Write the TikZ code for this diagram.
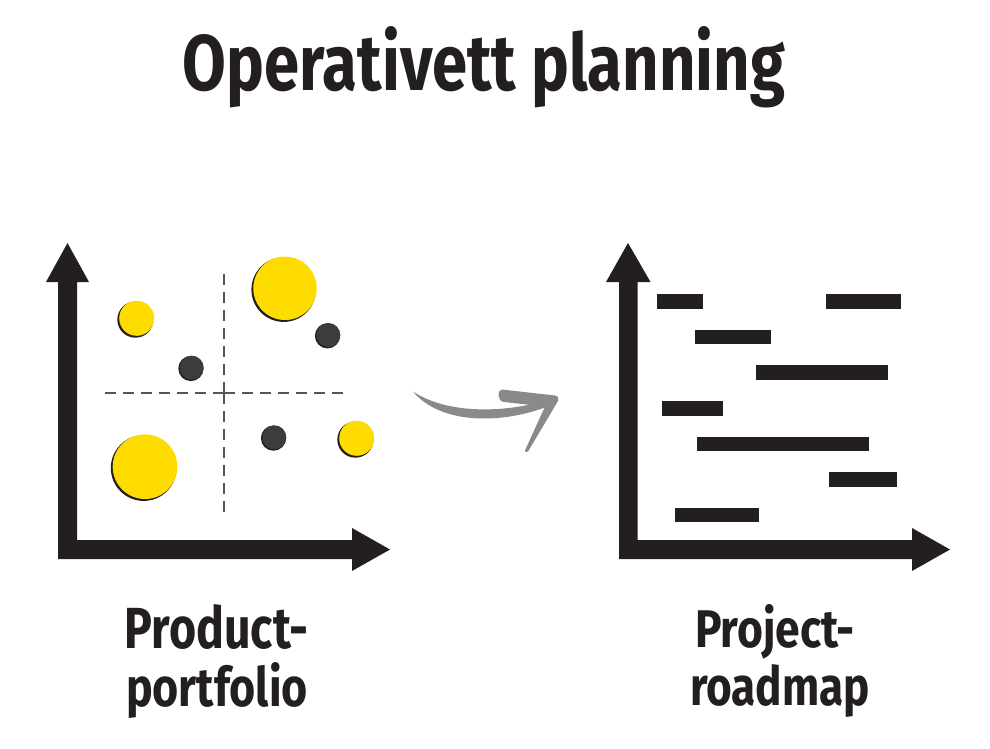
\documentclass[tikz,border=0pt]{standalone}
\usepackage{fontspec}
\setmainfont{Fira Sans}
\usepackage{graphicx}
\definecolor{ink}{HTML}{231F20}
\definecolor{sunny}{HTML}{FFDC00}
\definecolor{dot}{HTML}{3C3C3C}
\definecolor{dashgray}{HTML}{555555}
\definecolor{arrowgray}{HTML}{8A8A8A}
\tikzset{
  lbl/.style={inner sep=0pt, anchor=base, font=\bfseries, text=ink},
  axisfill/.style={fill=ink},
  quad/.style={draw=dashgray, line width=2.8pt, dash pattern=on 11pt off 7pt},
  barfill/.style={fill=ink},
}
\newcommand{\yellowdot}[3]{%
  \fill[ink] (#1-1.3,#2+1.3) circle[radius=#3pt+0.6pt];
  \fill[sunny] (#1,#2) circle[radius=#3pt];}
\newcommand{\darkdot}[2]{%
  \fill[ink] (#1-0.8,#2+0.8) circle[radius=12.6pt];
  \fill[dot] (#1,#2) circle[radius=12pt];}
\begin{document}
\begin{tikzpicture}[x=1pt,y=-1pt]
\useasboundingbox[fill=white] (0,0) rectangle (990,748);

% title
\node[lbl] (title) at (484,90) {\resizebox{602pt}{64pt}{Operativett planning}};

% ---------- left chart: product portfolio ----------
\fill[axisfill] (58,282) -- (46,282) -- (67.5,243) -- (89,282) -- (77,282)
  -- (77,540) -- (352,540) -- (352,528) -- (390,549.5) -- (352,571) -- (352,559)
  -- (58,559) -- cycle;
\coordinate (ctr) at (224,393);
\coordinate (qtop) at (224,267);
\coordinate (qbot) at (224,518);
\coordinate (qleft) at (98,393);
\coordinate (qright) at (350,393);
\draw[quad] (ctr) -- (qtop);
\draw[quad] (ctr) -- (qbot);
\draw[quad] (ctr) -- (qleft);
\draw[quad] (ctr) -- (qright);

\yellowdot{136.7}{318.3}{17.5}
\yellowdot{285}{288.3}{31.7}
\yellowdot{145}{466.7}{32.3}
\yellowdot{356.7}{438.3}{17.5}
\darkdot{328.3}{335}
\darkdot{191.7}{367.7}
\darkdot{274.3}{437.3}

% ---------- arrow between ----------
\fill[arrowgray] (413,391.5) .. controls (445,413) and (500,414) .. (546,400.5)
  -- (549,406) .. controls (500,425) and (440,424) .. (413,391.5) -- cycle;
\fill[arrowgray] (502,389.5) -- (555,395.5) .. controls (558.5,396) and (559,399) .. (558,401)
  -- (528,451.5) .. controls (526.5,453) and (524.5,452) .. (525,450.5)
  -- (545,406.5) -- (504,402) .. controls (497,401.5) and (497,389.5) .. (502,389.5) -- cycle;

% ---------- right chart: project roadmap ----------
\fill[axisfill] (619,282) -- (606,282) -- (628,243) -- (650.5,282) -- (637.5,282)
  -- (637.5,540) -- (912,540) -- (912,528) -- (950,549.5) -- (912,571) -- (912,559)
  -- (619,559) -- cycle;
\fill[barfill] (657.3,294) rectangle (702.7,308.7);
\fill[barfill] (826,294) rectangle (901,308.7);
\fill[barfill] (695.3,329.7) rectangle (770.7,344.3);
\fill[barfill] (756,365.3) rectangle (888,380);
\fill[barfill] (662,401) rectangle (723,415.7);
\fill[barfill] (697.3,436.7) rectangle (869.3,451.3);
\fill[barfill] (829.3,472.3) rectangle (896.7,487);
\fill[barfill] (675.3,507.7) rectangle (758.7,522.3);

% labels
\node[lbl] (prod1) at (216.5,648) {\resizebox{183pt}{44pt}{Product-}};
\node[lbl] (prod2) at (217,706) {\resizebox{182pt}{44pt}{portfolio}};
\node[lbl] (proj1) at (775,647) {\resizebox{160pt}{43pt}{Project-}};
\node[lbl] (proj2) at (780,705) {\resizebox{180pt}{41pt}{roadmap}};
\end{tikzpicture}
\end{document}
